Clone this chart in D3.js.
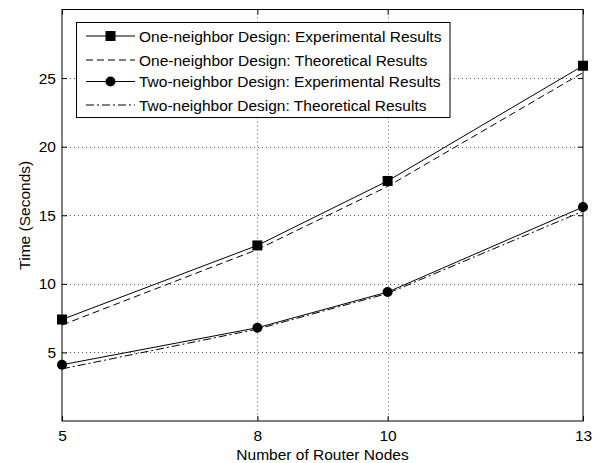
<!DOCTYPE html>
<html><head><meta charset="utf-8">
<script src="https://cdn.jsdelivr.net/npm/d3@7"></script>
<style>
html,body{margin:0;padding:0;background:#fff;}
text{font-family:"Liberation Sans",Arial,sans-serif;}
</style></head>
<body><svg id="c" width="600" height="463"></svg>
<script>
const nodes = [5, 8, 10, 13];
const oneExp = [7.4, 12.8, 17.5, 25.9];
const oneTheo = [7.0, 12.5, 17.1, 25.4];
const twoExp = [4.1, 6.8, 9.4, 15.6];
const twoTheo = [3.8, 6.7, 9.3, 15.3];
const yTicks = [5, 10, 15, 20, 25];
const seriesNames = [
  "One-neighbor Design: Experimental Results",
  "One-neighbor Design: Theoretical Results",
  "Two-neighbor Design: Experimental Results",
  "Two-neighbor Design: Theoretical Results"
];

const FS = 15.5;
const svg = d3.select("#c");
const L = 62, R = 583, T = 9.5, B = 421;
const x = d3.scaleLinear().domain([5, 13]).range([L, R]);
const y = d3.scaleLinear().domain([0, 30]).range([B, T]);

// grid
const g = svg.append("g");
g.selectAll(".gx").data(nodes.slice(1, 3)).enter().append("line")
  .attr("x1", d => Math.round(x(d)) + 0.5).attr("x2", d => Math.round(x(d)) + 0.5).attr("y1", T).attr("y2", B)
  .attr("stroke", "#555").attr("stroke-width", 1).attr("stroke-dasharray", "1,3");
g.selectAll(".gy").data(yTicks).enter().append("line")
  .attr("x1", L).attr("x2", R).attr("y1", d => Math.round(y(d)) + 0.5).attr("y2", d => Math.round(y(d)) + 0.5)
  .attr("stroke", "#555").attr("stroke-width", 1).attr("stroke-dasharray", "1,3");

// axes
const ax = svg.append("g").attr("transform", `translate(0,${B})`)
  .call(d3.axisBottom(x).tickValues(nodes).tickFormat(d3.format("d")).tickSizeInner(-5).tickSizeOuter(0).tickPadding(9));
const ay = svg.append("g").attr("transform", `translate(${L},0)`)
  .call(d3.axisLeft(y).tickValues(yTicks).tickSizeInner(-5).tickSizeOuter(0).tickPadding(6));
const axT = svg.append("g").attr("transform", `translate(0,${T})`)
  .call(d3.axisTop(x).tickValues(nodes).tickFormat("").tickSizeInner(-5).tickSizeOuter(0));
const ayR = svg.append("g").attr("transform", `translate(${R},0)`)
  .call(d3.axisRight(y).tickValues(yTicks).tickFormat("").tickSizeInner(-5).tickSizeOuter(0));
[ax, ay, axT, ayR].forEach(a => {
  a.selectAll("path").remove();
  a.selectAll("line").attr("stroke", "#000");
  a.selectAll("text").attr("font-size", FS).attr("fill", "#000").attr("font-family", "Liberation Sans, Arial, sans-serif");
});
svg.append("rect").attr("x", L).attr("y", T).attr("width", R - L).attr("height", B - T)
  .attr("fill", "none").attr("stroke", "#000").attr("stroke-width", 1);

// lines
const styles = [
  {data: oneExp, dash: null, marker: "square"},
  {data: oneTheo, dash: "7,4", marker: null},
  {data: twoExp, dash: null, marker: "circle"},
  {data: twoTheo, dash: "8,3,2,3", marker: null}
];
const line = d3.line().x((d, i) => x(nodes[i])).y(d => y(d));
styles.forEach(s => {
  svg.append("path").attr("d", line(s.data)).attr("fill", "none")
    .attr("stroke", "#000").attr("stroke-width", 1)
    .attr("stroke-dasharray", s.dash);
  if (s.marker === "square") {
    svg.selectAll(null).data(s.data).enter().append("rect")
      .attr("x", (d, i) => x(nodes[i]) - 5).attr("y", d => y(d) - 5)
      .attr("width", 10).attr("height", 10).attr("fill", "#000");
  } else if (s.marker === "circle") {
    svg.selectAll(null).data(s.data).enter().append("circle")
      .attr("cx", (d, i) => x(nodes[i])).attr("cy", d => y(d)).attr("r", 5).attr("fill", "#000");
  }
});

// labels
svg.append("text").attr("x", (L + R) / 2).attr("y", 460).attr("text-anchor", "middle")
  .attr("font-size", FS).text("Number of Router Nodes");
svg.append("text").attr("transform", `translate(30,${(T + B) / 2}) rotate(-90)`)
  .attr("text-anchor", "middle").attr("font-size", FS).text("Time (Seconds)");

// legend
const lg = svg.append("g");
lg.append("rect").attr("x", 76.5).attr("y", 22.5).attr("width", 373.5).attr("height", 95)
  .attr("fill", "#fff").attr("stroke", "#000").attr("stroke-width", 1);
const rowsY = [36, 60, 81.5, 105];
styles.forEach((s, i) => {
  const yy = rowsY[i];
  lg.append("line").attr("x1", 86).attr("x2", 135).attr("y1", yy).attr("y2", yy)
    .attr("stroke", "#000").attr("stroke-width", 1).attr("stroke-dasharray", s.dash);
  if (s.marker === "square") lg.append("rect").attr("x", 105.5).attr("y", yy - 5).attr("width", 10).attr("height", 10).attr("fill", "#000");
  if (s.marker === "circle") lg.append("circle").attr("cx", 110.5).attr("cy", yy).attr("r", 5).attr("fill", "#000");
  lg.append("text").attr("x", 139).attr("y", yy + 5.5).attr("font-size", FS).text(seriesNames[i]);
});
</script></body></html>
